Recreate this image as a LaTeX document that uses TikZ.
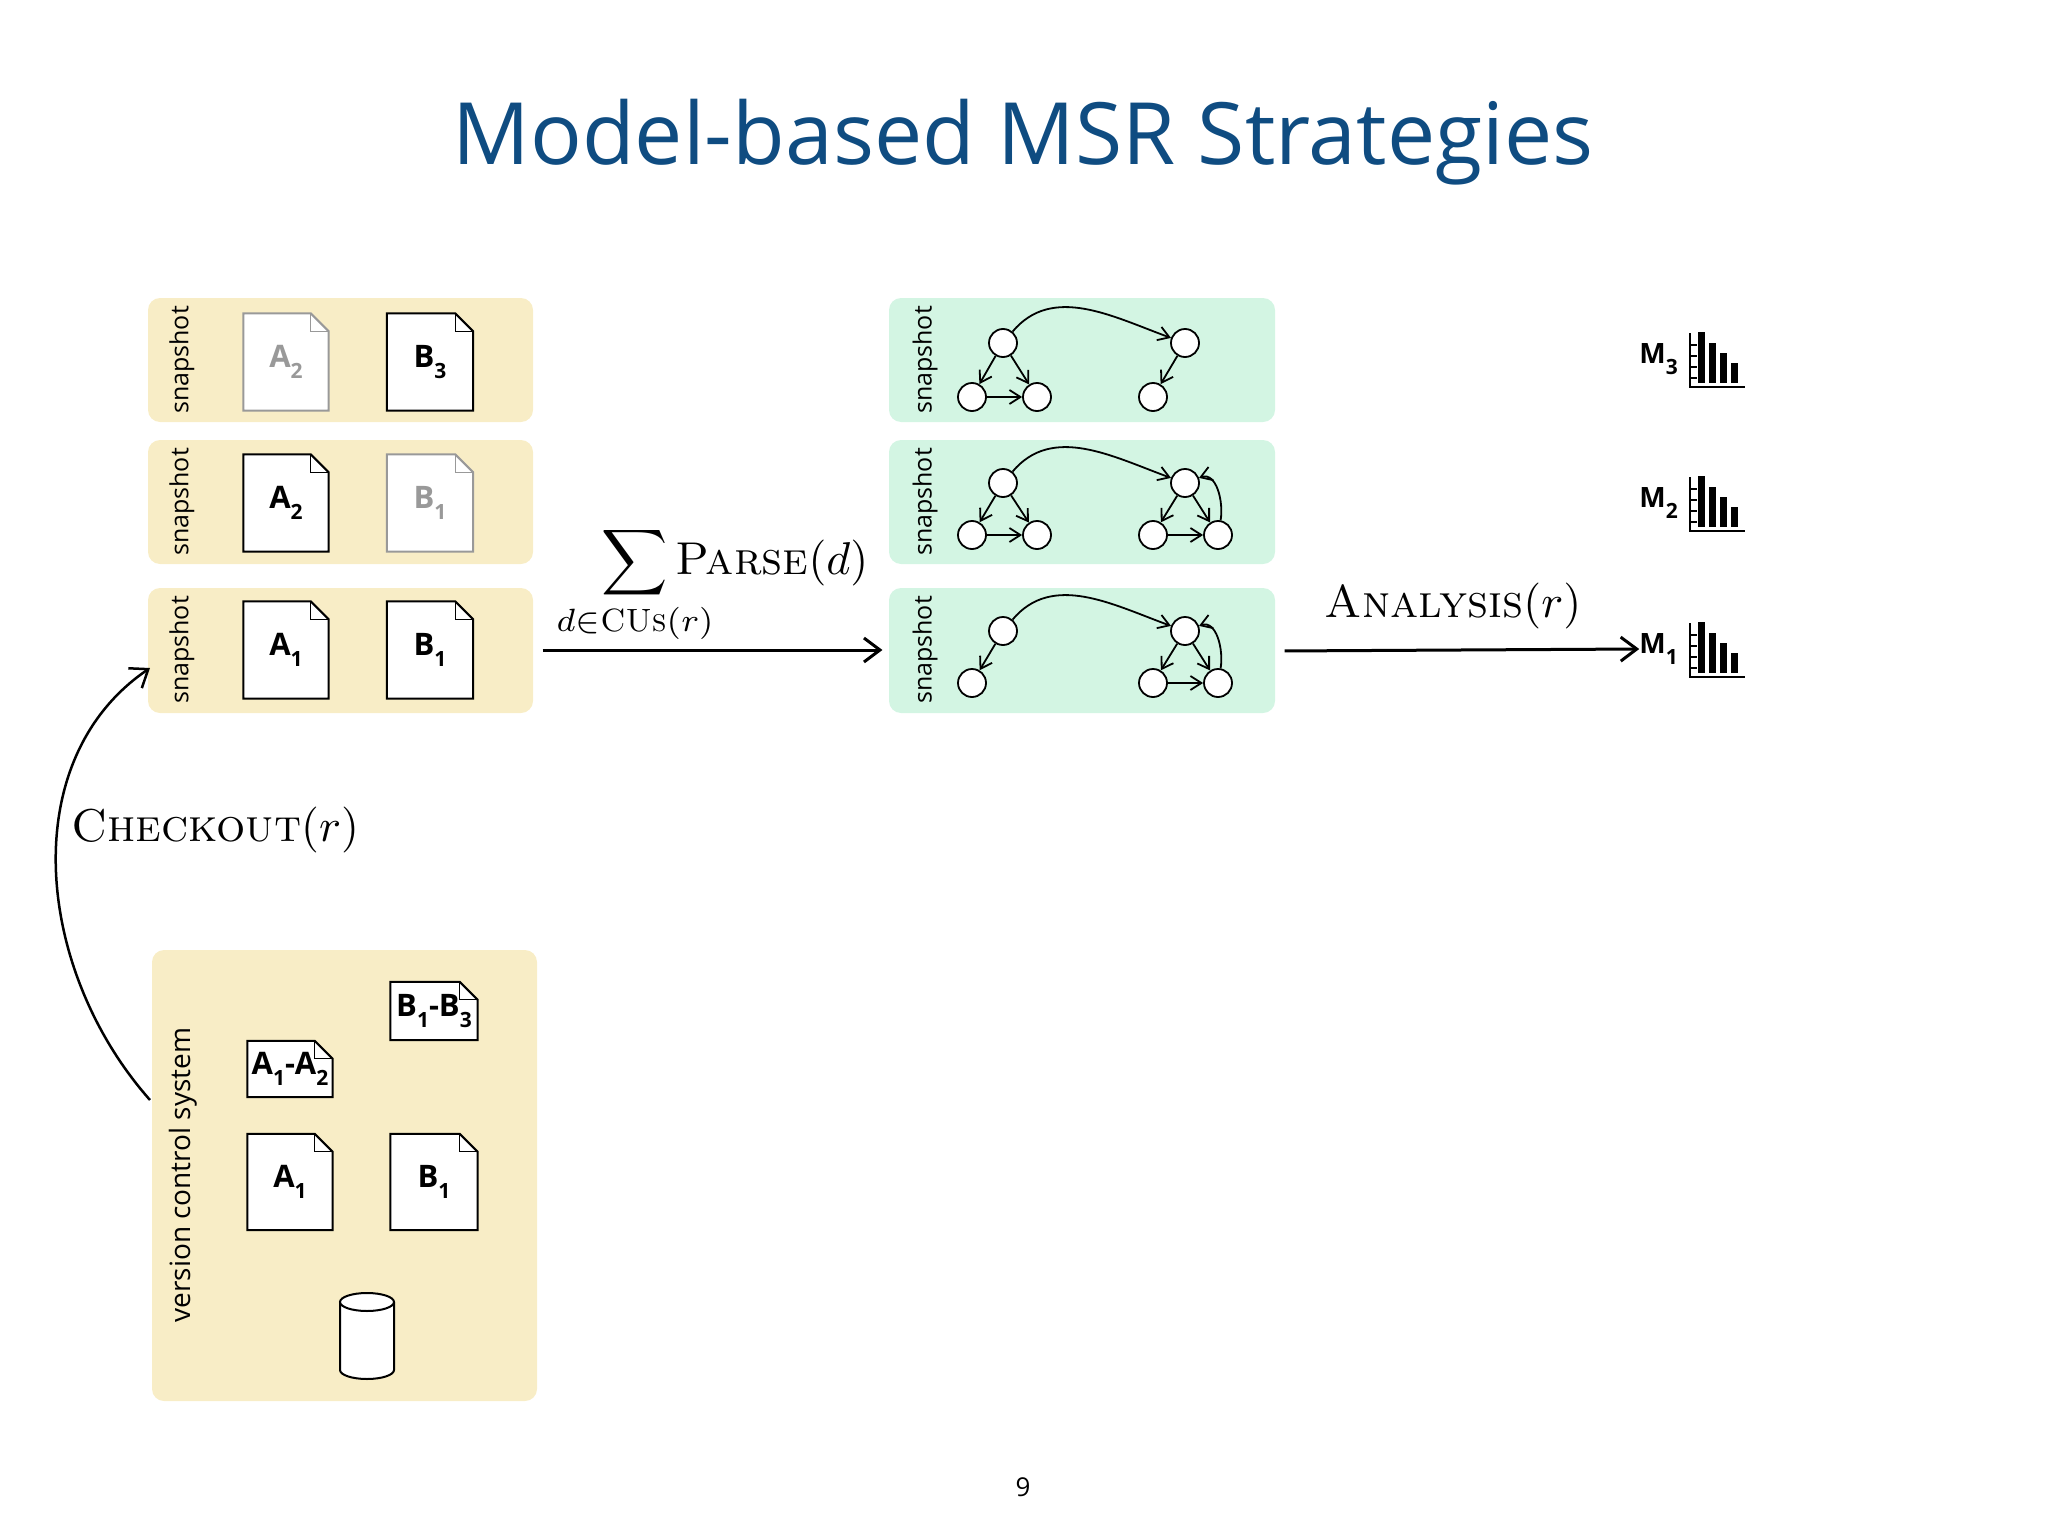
\documentclass[tikz,border=0pt]{standalone}
\usepackage{mathtools}
\usepackage{graphicx}
\usepackage{fontspec}
\newfontfamily\sff{Open Sans}
\usetikzlibrary{arrows.meta,shapes.geometric}
\definecolor{ybox}{HTML}{F8EDC6}
\definecolor{gbox}{HTML}{D3F5E3}
\definecolor{ttl}{HTML}{0F4C81}
\definecolor{gry}{HTML}{999999}
\tikzset{
 ybx/.style={fill=ybox,rounded corners=12pt,draw=none},
 gbx/.style={fill=gbox,rounded corners=12pt,draw=none},
 lbl/.style={rotate=90,font=\sff\fontsize{25}{27}\selectfont},
 gn/.style={circle,draw,fill=white,minimum size=28pt,inner sep=0,line width=1.8pt},
 ge/.style={-{Straight Barb[length=11pt,width=14pt]},line width=1.8pt},
 big/.style={-{Straight Barb[length=16pt,width=24pt]},line width=3pt},
 dl/.style={font=\sff\bfseries\fontsize{31}{31}\selectfont,inner sep=0}
}
\newcommand\sbs[1]{\raisebox{-11pt}{\fontsize{21}{21}\selectfont #1}}
\pgfdeclarelayer{background}
\pgfdeclarelayer{back0}
\pgfsetlayers{back0,background,main}
% name, cx, cy, w, h, label, color
\newcommand\docshape[7]{%
 \node[dl,text=#7,minimum width=#4pt,minimum height=#5pt] (#1) at (#2,#3) {#6};
 \begin{pgfonlayer}{background}
 \draw[#7,fill=white,line width=2pt] (#1.north west) -- ([xshift=-18pt]#1.north east) -- ([yshift=-18pt]#1.north east) -- (#1.south east) -- (#1.south west) -- cycle;
 \draw[#7,line width=1.2pt] ([xshift=-18pt]#1.north east) |- ([yshift=-18pt]#1.north east);
 \end{pgfonlayer}}
\begin{document}
\begin{tikzpicture}[x=1pt,y=-1pt]
\useasboundingbox (0,0) rectangle (2048,1536);
\node[font=\sff\fontsize{86}{86}\selectfont,text=ttl] (title) at (1023,142) {Model-based MSR Strategies};
\begin{pgfonlayer}{back0}
\path[ybx] (148,298) rectangle (533,422);
\path[ybx] (148,440) rectangle (533,564);
\path[ybx] (148,588) rectangle (533,713);
\path[gbx] (889,298) rectangle (1275,422);
\path[gbx] (889,440) rectangle (1275,564);
\path[gbx] (889,588) rectangle (1275,713);
\path[ybx] (152,950) rectangle (537,1401);
\end{pgfonlayer}
\node[draw=none,minimum width=1pt] (s1e) at (539,650) {};
\node[draw=none,minimum width=1pt] (g1w) at (886,650) {};
\node[draw=none,minimum width=1pt] (g1e) at (1281,651) {};
\foreach \y in {360,502,650} {\node[lbl] at (182,\y) {snapshot};}
\foreach \y in {360,502,650} {\node[lbl] at (925,\y) {snapshot};}
\node[lbl,font=\sff\fontsize{28}{30}\selectfont] at (183,1175) {version control system};
\docshape{a3}{286}{362}{85}{97}{A\sbs{2}}{gry}
\docshape{b3}{430}{362}{86}{97}{B\sbs{3}}{black}
\docshape{a2}{286}{503}{85}{97}{A\sbs{2}}{black}
\docshape{b2}{430}{503}{86}{97}{B\sbs{1}}{gry}
\docshape{a1}{286}{650}{85}{97}{A\sbs{1}}{black}
\docshape{b1}{430}{650}{86}{97}{B\sbs{1}}{black}
\docshape{va}{290}{1069}{85}{56}{A\sbs{1}-A\sbs{2}}{black}
\docshape{vb}{434}{1011}{87}{58}{B\sbs{1}-B\sbs{3}}{black}
\docshape{va1}{290}{1182}{85}{96}{A\sbs{1}}{black}
\docshape{vb1}{434}{1182}{87}{96}{B\sbs{1}}{black}
% database cylinder
\node[minimum width=54pt,minimum height=85pt,inner sep=0] (db) at (367,1336) {};
\draw[fill=white,line width=2pt] (340,1302) -- (340,1370) arc[start angle=180,end angle=360,x radius=27,y radius=-9] -- (394,1302);
\draw[fill=white,line width=2pt] (367,1302) ellipse[x radius=27,y radius=9];
\foreach \r/\ya/\yb in {3/343/397,2/483/535,1/631/683} {
 \node[gn] (p\r) at (1003,\ya) {};
 \node[gn] (q\r) at (972,\yb) {};
 \node[gn] (u\r) at (1185,\ya) {};
 \node[gn] (v\r) at (1153,\yb) {};
 \draw[ge] (p\r) to[out=50,in=160] (u\r);
 \draw[ge] (p\r) -- (q\r);
 \draw[ge] (u\r) -- (v\r);
}
\node[gn] (r3) at (1037,397) {};
\node[gn] (r2) at (1037,535) {};
\node[gn] (w2) at (1218,535) {};
\node[gn] (w1) at (1218,683) {};
\draw[ge] (p3) -- (r3); \draw[ge] (q3) -- (r3);
\draw[ge] (p2) -- (r2); \draw[ge] (q2) -- (r2);
\foreach \r in {1,2} {
 \draw[ge] (u\r) -- (w\r); \draw[ge] (v\r) -- (w\r);
 \draw[ge] (w\r) to[out=80,in=20] (u\r);
}
\foreach \n/\y in {3/359,2/503,1/649} {
 \node[font=\sff\bfseries\fontsize{28}{28}\selectfont,inner sep=0,anchor=east] (m\n) at (1678,\y) {M\sbs{\n}};
 \draw[line width=2.5pt] (1690,\y-26) -- (1690,\y+28) -- (1745,\y+28);
 \foreach \t in {-14,-3,8,19} {\draw[line width=2pt] (1690,\y+\t) -- (1697,\y+\t);}
 \fill (1698,\y-27) rectangle (1705,\y+24);
 \fill (1709,\y-16) rectangle (1716,\y+24);
 \fill (1720,\y-6) rectangle (1727,\y+24);
 \fill (1731,\y+4) rectangle (1738,\y+24);
}
\draw[big] (s1e) -- (g1w);
\draw[big] (g1e) -- (m1.west);
\node (plab) at (735,585) {\scalebox{4.6}{$\displaystyle\sum_{\mathclap{d\in\textsc{CUs}(r)}}\textsc{Parse}(d)$}};
\node (alab) at (1453,606) {\scalebox{4.6}{$\textsc{Analysis}(r)$}};
\coordinate (vcsin) at (150,1100);
\coordinate (snapin) at (150,668);
\draw[big,line width=2.5pt] (vcsin) .. controls (35,970) and (15,760) .. (snapin);
\node (clab) at (215,830) {\scalebox{4.6}{$\textsc{Checkout}(r)$}};
\node[font=\sff\fontsize{26}{26}\selectfont] (pg) at (1023,1487) {9};
\end{tikzpicture}
\end{document}
